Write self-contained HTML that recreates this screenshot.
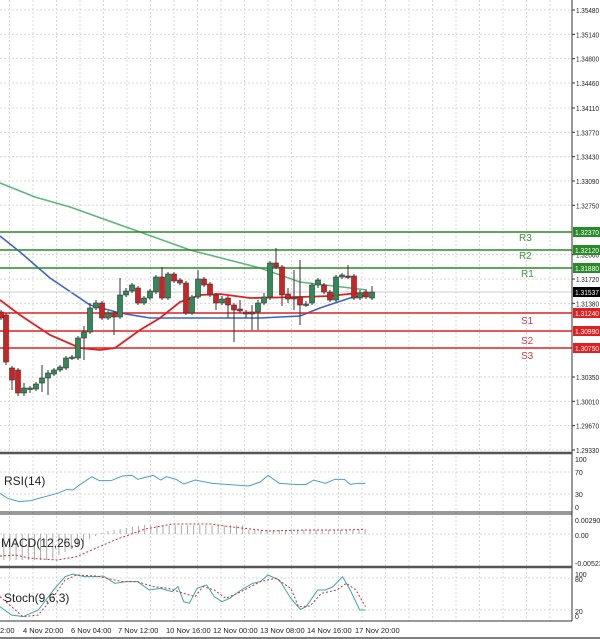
<!DOCTYPE html>
<html><head><meta charset="utf-8"><style>
html,body{margin:0;padding:0;background:#fff;width:600px;height:639px;overflow:hidden}
svg{display:block;font-family:"Liberation Sans",sans-serif}
</style></head><body>
<svg id="s" width="600" height="639" viewBox="0 0 600 639" xmlns="http://www.w3.org/2000/svg">
<rect width="600" height="639" fill="#fff"/>
<g id="grid" stroke="#d8d8d8" stroke-dasharray="2,2" stroke-width="1"></g>
<g id="main"></g>
<g id="axis" font-size="7.5" fill="#222"></g>
</svg>
<script>
const NS="http://www.w3.org/2000/svg",s=document.getElementById('s');
function el(t,a,p){const e=document.createElementNS(NS,t);for(const k in a)e.setAttribute(k,a[k]);(p||s).appendChild(e);return e;}
const G=document.getElementById('grid'),M=document.getElementById('main'),A=document.getElementById('axis');
for(let x=9.5;x<572;x+=23.5){el('line',{x1:x,y1:0,x2:x,y2:621},G);}
const py=p=>10+(1.3548-p)*7154;
const labels=[1.3548,1.3514,1.348,1.3446,1.3411,1.3377,1.3343,1.3309,1.3275,1.3206,1.3172,1.3138,1.3035,1.3001,1.2967,1.2933];
labels.forEach(p=>{const y=py(p);el('line',{x1:0,y1:y,x2:572,y2:y},G);el('line',{x1:572,y1:y,x2:575,y2:y,stroke:'#333'},A);const t=el('text',{x:576,y:y+3,textLength:23,lengthAdjust:'spacingAndGlyphs','font-size':7},A);t.textContent=p.toFixed(5);});
[472,494,534,578,610].forEach(y=>el('line',{x1:0,y1:y,x2:572,y2:y},G));
function pl(pts,c,w,d){el('polyline',{points:pts.map(p=>p.join(',')).join(' '),fill:'none',stroke:c,'stroke-width':w||1.5,'stroke-dasharray':d||''},M);}
pl([[0,183],[35,197],[70,207],[140,232],[190,250],[260,268],[300,282],[367,290]],'#5cb87a',1.6);
pl([[0,236],[20,252],[50,278],[90,305],[120,313],[150,318],[200,318],[260,318],[300,316],[320,308],[350,298],[367,295]],'#3b64c8',1.6);
pl([[0,300],[20,315],[50,335],[80,348],[100,350],[115,348],[140,330],[160,318],[180,302],[200,295],[220,294],[250,298],[300,297],[330,296],[367,292]],'#e02020',1.8);
[232,250,268].forEach(y=>el('line',{x1:0,y1:y,x2:572,y2:y,stroke:'#2a8a2a','stroke-width':1.6},M));
[313,331,348].forEach(y=>el('line',{x1:0,y1:y,x2:572,y2:y,stroke:'#e02020','stroke-width':1.6},M));
el('line',{x1:0,y1:292,x2:572,y2:292,stroke:'#ccc'},M);
[['R3',519,241,'#3a9a3a'],['R2',519,259,'#3a9a3a'],['R1',521,277,'#3a9a3a'],['S1',521,324,'#d04040'],['S2',521,344,'#d04040'],['S3',521,359,'#d04040']].forEach(a=>{const t=el('text',{x:a[1],y:a[2],fill:a[3],'font-size':10},M);t.textContent=a[0];});
const C=[[1,312,318,310,320],[6,315,362,313,365],[12,368,380,366,390],[18,370,393,368,396],[24,393,388,383,396],[30,389,388,386,393],[36,389,384,382,391],[42,383,378,365,392],[48,378,373,370,395],[54,374,370,368,376],[60,370,367,365,372],[66,368,358,356,370],[72,358,357,355,360],[78,358,338,336,360],[84,338,332,326,360],[90,332,308,303,334],[96,308,303,300,310],[102,303,318,301,320],[108,318,313,311,320],[114,313,317,311,335],[120,317,295,278,319],[126,295,291,288,297],[132,291,285,283,293],[138,288,303,286,305],[144,303,298,296,305],[150,298,291,289,300],[156,292,277,275,294],[162,277,298,267,300],[168,298,274,272,300],[174,274,281,272,283],[180,280,283,278,285],[186,283,313,281,315],[192,313,297,295,315],[198,297,279,270,299],[204,279,285,277,287],[210,284,295,282,297],[216,295,303,293,310],[222,303,299,296,305],[228,298,305,296,318],[234,305,310,303,342],[240,309,311,300,313],[246,312,314,310,318],[252,312,314,305,330],[258,312,303,300,330],[264,303,297,293,305],[270,297,263,261,300],[276,263,267,248,269],[282,267,295,265,306],[288,294,299,288,303],[294,297,299,270,310],[300,297,305,260,325],[306,305,304,301,307],[312,303,285,283,305],[318,285,280,278,288],[324,285,292,283,294],[330,292,300,290,302],[336,300,277,275,302],[342,277,275,273,279],[348,276,277,265,279],[354,276,298,274,300],[360,298,293,290,300],[366,292,297,290,299],[372,298,292,286,300]];
C.forEach(c=>{const up=c[2]<c[1],col=up?'#2e8b57':'#d42020';const top=Math.min(c[1],c[2]),h=Math.max(1.5,Math.abs(c[2]-c[1]));
el('line',{x1:c[0],y1:c[3],x2:c[0],y2:c[4],stroke:'#333','stroke-width':1},M);
el('rect',{x:c[0]-2.5,y:top,width:5,height:h,fill:col,stroke:'#333','stroke-width':0.6},M);});
[[232,'1.32370','#2a8a2a'],[250,'1.32120','#2a8a2a'],[268,'1.31880','#2a8a2a'],[292,'1.31537','#000'],[313,'1.31240','#e02020'],[331,'1.30990','#e02020'],[348,'1.30750','#e02020']].forEach(a=>{el('rect',{x:573,y:a[0]-5,width:27,height:10,fill:a[2]},A);const t=el('text',{x:575,y:a[0]+3,fill:'#fff',textLength:24,lengthAdjust:'spacingAndGlyphs','font-size':7},A);t.textContent=a[1];});
el('line',{x1:572,y1:0,x2:572,y2:621,stroke:'#333'},A);
el('line',{x1:0,y1:453,x2:572,y2:453,stroke:'#555','stroke-width':2.5},A);
el('line',{x1:0,y1:512,x2:572,y2:512,stroke:'#333'},A);
el('line',{x1:0,y1:514,x2:572,y2:514,stroke:'#333'},A);
el('line',{x1:0,y1:567,x2:572,y2:567,stroke:'#555','stroke-width':2.5},A);
el('line',{x1:0,y1:621,x2:572,y2:621,stroke:'#333'},A);
el('line',{x1:0,y1:638,x2:600,y2:638,stroke:'#555','stroke-width':1.5},A);
[['100',459],['70',472],['30',494],['0',507],['0.00290',520],['0.00',535],['-0.00523',563],['100',574],['80',579],['20',611],['0',616]].forEach(a=>{const t=el('text',{x:575,y:a[1]+3,'font-size':7},A);t.textContent=a[0];});
const fx=2.613;
function zp(arr){return arr.map(p=>[p[0]/fx,450+p[1]/3]);}
pl(zp([[0,130],[20,145],[50,155],[80,152],[150,130],[175,118],[190,120],[210,103],[240,80],[260,92],[290,92],[320,78],[345,76],[360,88],[400,76],[420,90],[435,80],[460,88],[480,102],[510,90],[555,100],[600,104],[650,108],[680,96],[700,76],[730,100],[780,104],[800,103],[820,90],[850,100],[875,88],[900,88],[915,103],[935,100],[955,100]]),'#4a9fd0',1);
for(let zx=10;zx<=960;zx+=16){let v;if(zx<130)v=330;else if(zx<270)v=330-(zx-130)*0.6;else if(zx<380)v=246-(zx-270)*0.2;else if(zx<650)v=226;else v=240;
const y=450+v/3,x=zx/fx;el('line',{x1:x,y1:534,x2:x,y2:y,stroke:'#aaa','stroke-width':1},M);}
pl(zp([[0,318],[40,315],[80,325],[150,330],[200,320],[300,270],[380,237],[450,222],[550,222],[600,230],[700,243],[800,240],[900,240],[955,238]]),'#d03030',1,'2,2');
pl(zp([[0,470],[30,495],[60,500],[100,480],[140,420],[170,380],[190,372],[220,380],[250,380],[270,378],[300,400],[330,395],[360,395],[390,420],[420,415],[450,425],[465,410],[480,455],[495,460],[515,415],[540,405],[560,440],[580,455],[600,445],[630,420],[660,400],[680,395],[700,375],[730,390],[760,445],[785,478],[800,470],[830,420],[850,420],[870,410],[895,380],[915,420],[940,480],[955,480]]),'#3aa8a8',1);
pl(zp([[0,440],[30,470],[60,500],[100,495],[140,440],[170,390],[200,375],[250,378],[280,385],[320,395],[360,395],[400,410],[440,415],[480,430],[510,440],[530,410],[560,420],[590,445],[630,425],[680,395],[720,385],[760,415],[780,470],[810,468],[840,430],[880,420],[905,400],[930,420],[955,470]]),'#d03030',1,'2,2');
[['RSI(14)',4,485],['MACD(12,26,9)',1,547],['Stoch(9,6,3)',4,602]].forEach(a=>{const t=el('text',{x:a[1],y:a[2],'font-size':12,fill:'#222'},A);t.textContent=a[0];});
[['2:00',0],['4 Nov 20:00',23],['6 Nov 04:00',71],['7 Nov 12:00',118],['10 Nov 16:00',166],['12 Nov 00:00',213],['13 Nov 08:00',260],['14 Nov 16:00',307],['17 Nov 20:00',355]].forEach(a=>{const t=el('text',{x:a[1],y:633,'font-size':7.5},A);t.textContent=a[0];});
</script>
</body></html>
